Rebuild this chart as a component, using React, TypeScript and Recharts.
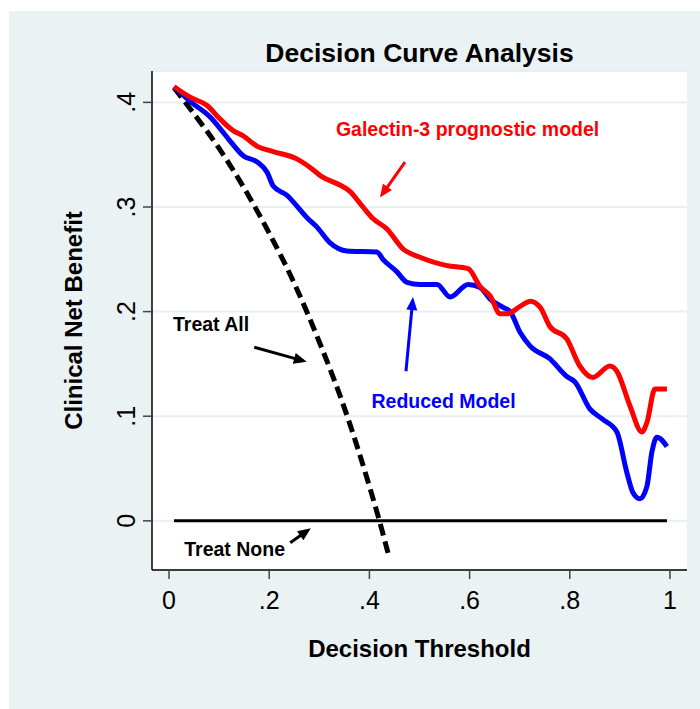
import React from 'react';
import {
  LineChart,
  Line,
  XAxis,
  YAxis,
  CartesianGrid,
  ReferenceLine,
  ReferenceDot,
  Label,
} from 'recharts';

const FONT = '"Liberation Sans", Arial, Helvetica, sans-serif';

// ---- Data ----
const xTicks = [0, 0.2, 0.4, 0.6, 0.8, 1];
const yTicks = [0, 0.1, 0.2, 0.3, 0.4];

const galectinThreshold = [
  0.01, 0.042, 0.076, 0.102, 0.128, 0.148, 0.176, 0.208, 0.255, 0.281, 0.305, 0.341, 0.361,
  0.387, 0.407, 0.435, 0.467, 0.501, 0.555, 0.597, 0.621, 0.641, 0.661, 0.675, 0.701, 0.721,
  0.741, 0.76, 0.794, 0.82, 0.846, 0.88, 0.894, 0.92, 0.944, 0.954, 0.97, 0.994,
];
const galectinBenefit = [
  0.415, 0.405, 0.397, 0.384, 0.373, 0.368, 0.358, 0.353, 0.346, 0.338, 0.329, 0.321, 0.315,
  0.3, 0.289, 0.279, 0.26, 0.252, 0.244, 0.241, 0.224, 0.215, 0.198, 0.198, 0.205, 0.21,
  0.204, 0.186, 0.174, 0.148, 0.137, 0.148, 0.143, 0.11, 0.085, 0.094, 0.126, 0.126,
];

const reducedThreshold = [
  0.01, 0.042, 0.082, 0.102, 0.122, 0.148, 0.176, 0.196, 0.208, 0.236, 0.255, 0.275, 0.295,
  0.321, 0.355, 0.415, 0.427, 0.455, 0.475, 0.501, 0.535, 0.561, 0.597, 0.621, 0.641, 0.667,
  0.681, 0.701, 0.721, 0.76, 0.794, 0.81, 0.84, 0.866, 0.894, 0.914, 0.926, 0.94, 0.954,
  0.964, 0.974, 0.994,
];
const reducedBenefit = [
  0.415, 0.401, 0.386, 0.375, 0.363, 0.349, 0.343, 0.333, 0.32, 0.311, 0.301, 0.29, 0.281,
  0.266, 0.258, 0.257, 0.25, 0.238, 0.228, 0.226, 0.226, 0.214, 0.226, 0.223, 0.212, 0.204,
  0.2, 0.18, 0.167, 0.155, 0.138, 0.133, 0.107, 0.097, 0.085, 0.046, 0.027, 0.021, 0.033,
  0.066, 0.08, 0.071,
];

const treatAllThreshold = [0.01, 0.05, 0.1, 0.15, 0.2, 0.25, 0.3, 0.35, 0.4, 0.42, 0.44];
const treatAllBenefit = [0.414, 0.389, 0.356, 0.318, 0.275, 0.227, 0.171, 0.108, 0.033, 0.0, -0.036];

const treatNoneThreshold = [0.01, 0.994];
const treatNoneBenefit = [0, 0];

// annotation anchors (data coordinates)
const annotations = [
  { text: 'Galectin-3 prognostic model', x: 0.596, y: 0.368, color: '#ff0000' },
  { text: 'Reduced Model', x: 0.548, y: 0.108, color: '#0000ff' },
  { text: 'Treat All', x: 0.084, y: 0.181, color: '#000000' },
  { text: 'Treat None', x: 0.131, y: -0.034, color: '#000000' },
];
const arrows = [
  { from: { x: 0.471, y: 0.343 }, to: { x: 0.421, y: 0.309 }, color: '#ff0000' },
  { from: { x: 0.473, y: 0.143 }, to: { x: 0.487, y: 0.214 }, color: '#0000ff' },
  { from: { x: 0.17, y: 0.166 }, to: { x: 0.275, y: 0.152 }, color: '#000000' },
  { from: { x: 0.242, y: -0.021 }, to: { x: 0.283, y: -0.007 }, color: '#000000' },
];

const toPoints = (xs: number[], ys: number[]) => xs.map((x, i) => ({ x, y: ys[i] }));

const galectinData = toPoints(galectinThreshold, galectinBenefit);
const reducedData = toPoints(reducedThreshold, reducedBenefit);
const treatAllData = toPoints(treatAllThreshold, treatAllBenefit);
const treatNoneData = toPoints(treatNoneThreshold, treatNoneBenefit);

const fmt = (v: number) => (v === 0 ? '0' : v === 1 ? '1' : String(v).replace(/^0/, ''));

const XTick = (props: any) => {
  const { x, y, payload } = props;
  return (
    <text x={x} y={y + 29.5} textAnchor="middle" fontSize={25} fontFamily={FONT} fill="#000">
      {fmt(payload.value)}
    </text>
  );
};

const YTick = (props: any) => {
  const { x, y, payload } = props;
  return (
    <text
      transform={`translate(${x - 8.5},${y}) rotate(-90)`}
      textAnchor="middle"
      fontSize={25}
      fontFamily={FONT}
      fill="#000"
    >
      {fmt(payload.value)}
    </text>
  );
};

const makeArrow = (color: string) => (props: any) => {
  const { x1, y1, x2, y2 } = props;
  const dx = x2 - x1;
  const dy = y2 - y1;
  const len = Math.sqrt(dx * dx + dy * dy) || 1;
  const ux = dx / len;
  const uy = dy / len;
  const headLen = 13;
  const headHalf = 5.5;
  const bx = x2 - ux * headLen;
  const by = y2 - uy * headLen;
  const px = -uy;
  const py = ux;
  return (
    <g>
      <line x1={x1} y1={y1} x2={bx + ux * 2} y2={by + uy * 2} stroke={color} strokeWidth={3} />
      <polygon
        points={`${x2},${y2} ${bx + px * headHalf},${by + py * headHalf} ${bx - px * headHalf},${by - py * headHalf}`}
        fill={color}
      />
    </g>
  );
};

const makeText = (text: string, color: string) => (props: any) => {
  const { cx, cy } = props;
  return (
    <text
      x={cx}
      y={cy}
      textAnchor="middle"
      fontSize={19.5}
      fontWeight="bold"
      fontFamily={FONT}
      fill={color}
    >
      {text}
    </text>
  );
};

const XTitle = (props: any) => {
  const vb = props.viewBox || { x: 152, y: 570, width: 535, height: 139 };
  return (
    <text
      x={vb.x + vb.width / 2}
      y={vb.y + 87}
      textAnchor="middle"
      fontSize={24}
      fontWeight="bold"
      fontFamily={FONT}
      fill="#000"
    >
      Decision Threshold
    </text>
  );
};

const YTitle = (props: any) => {
  const vb = props.viewBox || { x: 0, y: 71, width: 152, height: 499 };
  const cx = vb.x + 82;
  const cy = vb.y + vb.height / 2;
  return (
    <text
      transform={`translate(${cx},${cy}) rotate(-90)`}
      textAnchor="middle"
      fontSize={24}
      fontWeight="bold"
      fontFamily={FONT}
      fill="#000"
    >
      Clinical Net Benefit
    </text>
  );
};

export default function App() {
  return (
    <div style={{ position: 'absolute', left: 0, top: 0, width: 700, height: 709, background: '#ffffff' }}>
      <div
        style={{
          position: 'absolute',
          left: 9,
          top: 11,
          width: 691,
          height: 698,
          background: '#eaf2f3',
        }}
      />
      <div style={{ position: 'absolute', left: 0, top: 0 }}>
        <LineChart width={700} height={709} margin={{ top: 71, right: 13, left: 0, bottom: 0 }}>
          <CartesianGrid
            vertical={false}
            fill="#ffffff"
            stroke="#e6eff1"
            strokeWidth={2}
          />
          <XAxis
            type="number"
            dataKey="x"
            domain={[-0.034, 1.034]}
            ticks={xTicks}
            allowDataOverflow
            height={139}
            tickSize={9}
            tickMargin={0}
            tick={<XTick />}
            axisLine={{ stroke: '#000', strokeWidth: 1.5 }}
            tickLine={{ stroke: '#444', strokeWidth: 1.5 }}
          >
            <Label content={<XTitle />} />
          </XAxis>
          <YAxis
            type="number"
            dataKey="y"
            domain={[-0.047, 0.43]}
            ticks={yTicks}
            allowDataOverflow
            width={152}
            tickSize={9}
            tickMargin={0}
            tick={<YTick />}
            axisLine={{ stroke: '#000', strokeWidth: 1.5 }}
            tickLine={{ stroke: '#444', strokeWidth: 1.5 }}
          >
            <Label content={<YTitle />} />
          </YAxis>
          <Line
            data={treatNoneData}
            dataKey="y"
            type="linear"
            stroke="#000"
            strokeWidth={3}
            dot={false}
            isAnimationActive={false}
          />
          <Line
            data={treatAllData}
            dataKey="y"
            type="monotone"
            stroke="#000"
            strokeWidth={5}
            strokeDasharray="12 6"
            dot={false}
            isAnimationActive={false}
          />
          <Line
            data={reducedData}
            dataKey="y"
            type="monotone"
            stroke="#0000ff"
            strokeWidth={5}
            dot={false}
            isAnimationActive={false}
          />
          <Line
            data={galectinData}
            dataKey="y"
            type="monotone"
            stroke="#ff0000"
            strokeWidth={5}
            dot={false}
            isAnimationActive={false}
          />
          {arrows.map((a, i) => (
            <ReferenceLine
              key={'arrow' + i}
              segment={[a.from, a.to]}
              ifOverflow="visible"
              shape={makeArrow(a.color)}
            />
          ))}
          {annotations.map((a, i) => (
            <ReferenceDot
              key={'note' + i}
              x={a.x}
              y={a.y}
              r={1}
              ifOverflow="visible"
              shape={makeText(a.text, a.color)}
            />
          ))}
        </LineChart>
      </div>
      <svg
        width={700}
        height={80}
        style={{ position: 'absolute', left: 0, top: 0, pointerEvents: 'none' }}
      >
        <text
          x={419.5}
          y={62}
          textAnchor="middle"
          fontSize={26.5}
          fontWeight="bold"
          fontFamily={FONT}
          fill="#000"
        >
          Decision Curve Analysis
        </text>
      </svg>
    </div>
  );
}
